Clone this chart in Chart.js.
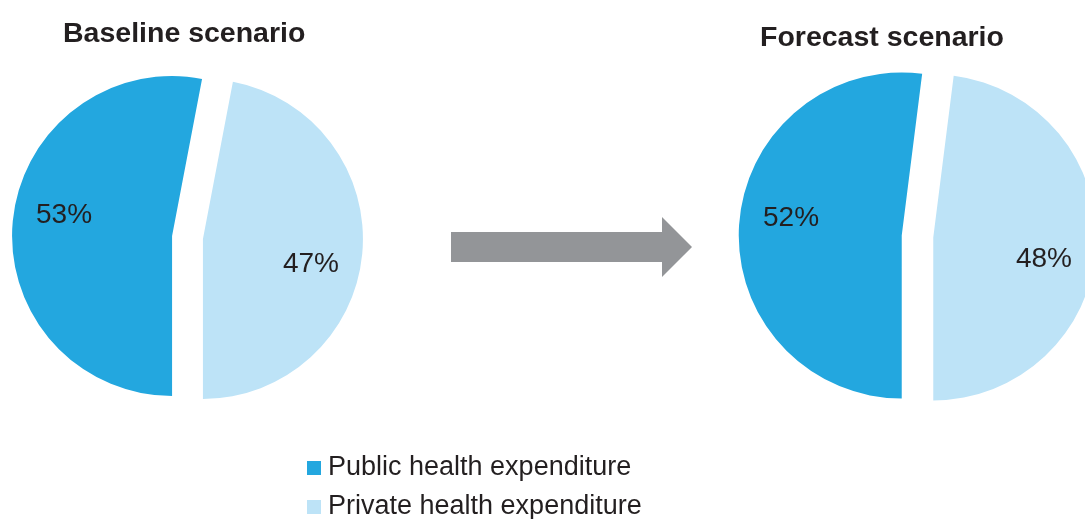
<!DOCTYPE html>
<html>
<head>
<meta charset="utf-8">
<script src="https://cdn.jsdelivr.net/npm/chart.js@4"></script>
<style>
html, body { margin: 0; padding: 0; width: 1085px; height: 519px; overflow: hidden; background: #fff; }
#arrow { position: absolute; left: 0; top: 0; }
#baseline { position: absolute; left: 0; top: 0; }
#forecast { position: absolute; left: 727px; top: 0; }
.legend { position: absolute; left: 307px; top: 447px; font: 27px "Liberation Sans", Arial, sans-serif; color: #231F20; line-height: 39px; white-space: nowrap; }
.legend .box { display: inline-block; width: 14px; height: 14px; margin-right: 7px; }
</style>
</head>
<body>
<svg id="arrow" width="1085" height="519"><polygon points="451,232 662,232 662,217 692,247 662,277 662,262 451,262" fill="#939598"/></svg>
<canvas id="baseline" width="375" height="475"></canvas>
<canvas id="forecast" width="381" height="473"></canvas>
<div class="legend" id="legend"></div>
<script>
const categories = ['Public health expenditure', 'Private health expenditure'];
const baselineValues = [53, 47];
const forecastValues = [52, 48];
const colors = ['#23A7DF', '#BDE3F7'];

// Legend built from the categories
const legend = document.getElementById('legend');
categories.forEach((name, i) => {
    const row = document.createElement('div');
    row.innerHTML = `<span class="box" style="background:${colors[i]}"></span>${name}`;
    legend.appendChild(row);
});

// Pull slices apart along their middle angle (straight edges, unlike the offset option)
const explode = {
    id: 'explode',
    afterDatasetsUpdate(chart, args, opts) {
        chart.getDatasetMeta(0).data.forEach(arc => {
            const mid = (arc.startAngle + arc.endAngle) / 2;
            arc.x += Math.cos(mid) * opts.distance;
            arc.y += Math.sin(mid) * opts.distance;
        });
    }
};

// Percent labels inside each slice
const pctLabels = {
    id: 'pctLabels',
    afterDatasetsDraw(chart) {
        const ctx = chart.ctx;
        const meta = chart.getDatasetMeta(0);
        const values = chart.data.datasets[0].data;
        ctx.save();
        ctx.font = '28px "Liberation Sans", Arial, sans-serif';
        ctx.fillStyle = '#231F20';
        ctx.textAlign = 'center';
        ctx.textBaseline = 'alphabetic';
        meta.data.forEach((arc, i) => {
            const a = (arc.startAngle + arc.endAngle) / 2 + 6.5 * Math.PI / 180;
            const d = arc.outerRadius * 0.69;
            ctx.fillText(values[i] + '%', arc.x + Math.cos(a) * d, arc.y + Math.sin(a) * d + 10);
        });
        ctx.restore();
    }
};

// Scenario heading
const scenarioTitle = {
    id: 'scenarioTitle',
    afterDraw(chart, args, opts) {
        const ctx = chart.ctx;
        ctx.save();
        ctx.font = 'bold 28.5px "Liberation Sans", Arial, sans-serif';
        ctx.fillStyle = '#231F20';
        ctx.textAlign = 'left';
        ctx.textBaseline = 'alphabetic';
        ctx.fillText(opts.text, opts.x, opts.y);
        ctx.restore();
    }
};

function makePie(id, values, radius, distance, title) {
    return new Chart(document.getElementById(id), {
        type: 'pie',
        data: {
            labels: categories,
            datasets: [{
                data: values,
                backgroundColor: colors,
                borderWidth: 0,
                rotation: 180
            }]
        },
        options: {
            responsive: false,
            animation: false,
            events: [],
            radius: radius,
            layout: { padding: 0 },
            plugins: {
                legend: { display: false },
                tooltip: { enabled: false },
                explode: { distance: distance },
                scenarioTitle: title
            }
        },
        plugins: [explode, pctLabels, scenarioTitle]
    });
}

makePie('baseline', baselineValues, 160, 15.5, { text: 'Baseline scenario', x: 63, y: 42 });
makePie('forecast', forecastValues, 163, 15.8, { text: 'Forecast scenario', x: 33, y: 46 });
</script>
</body>
</html>
